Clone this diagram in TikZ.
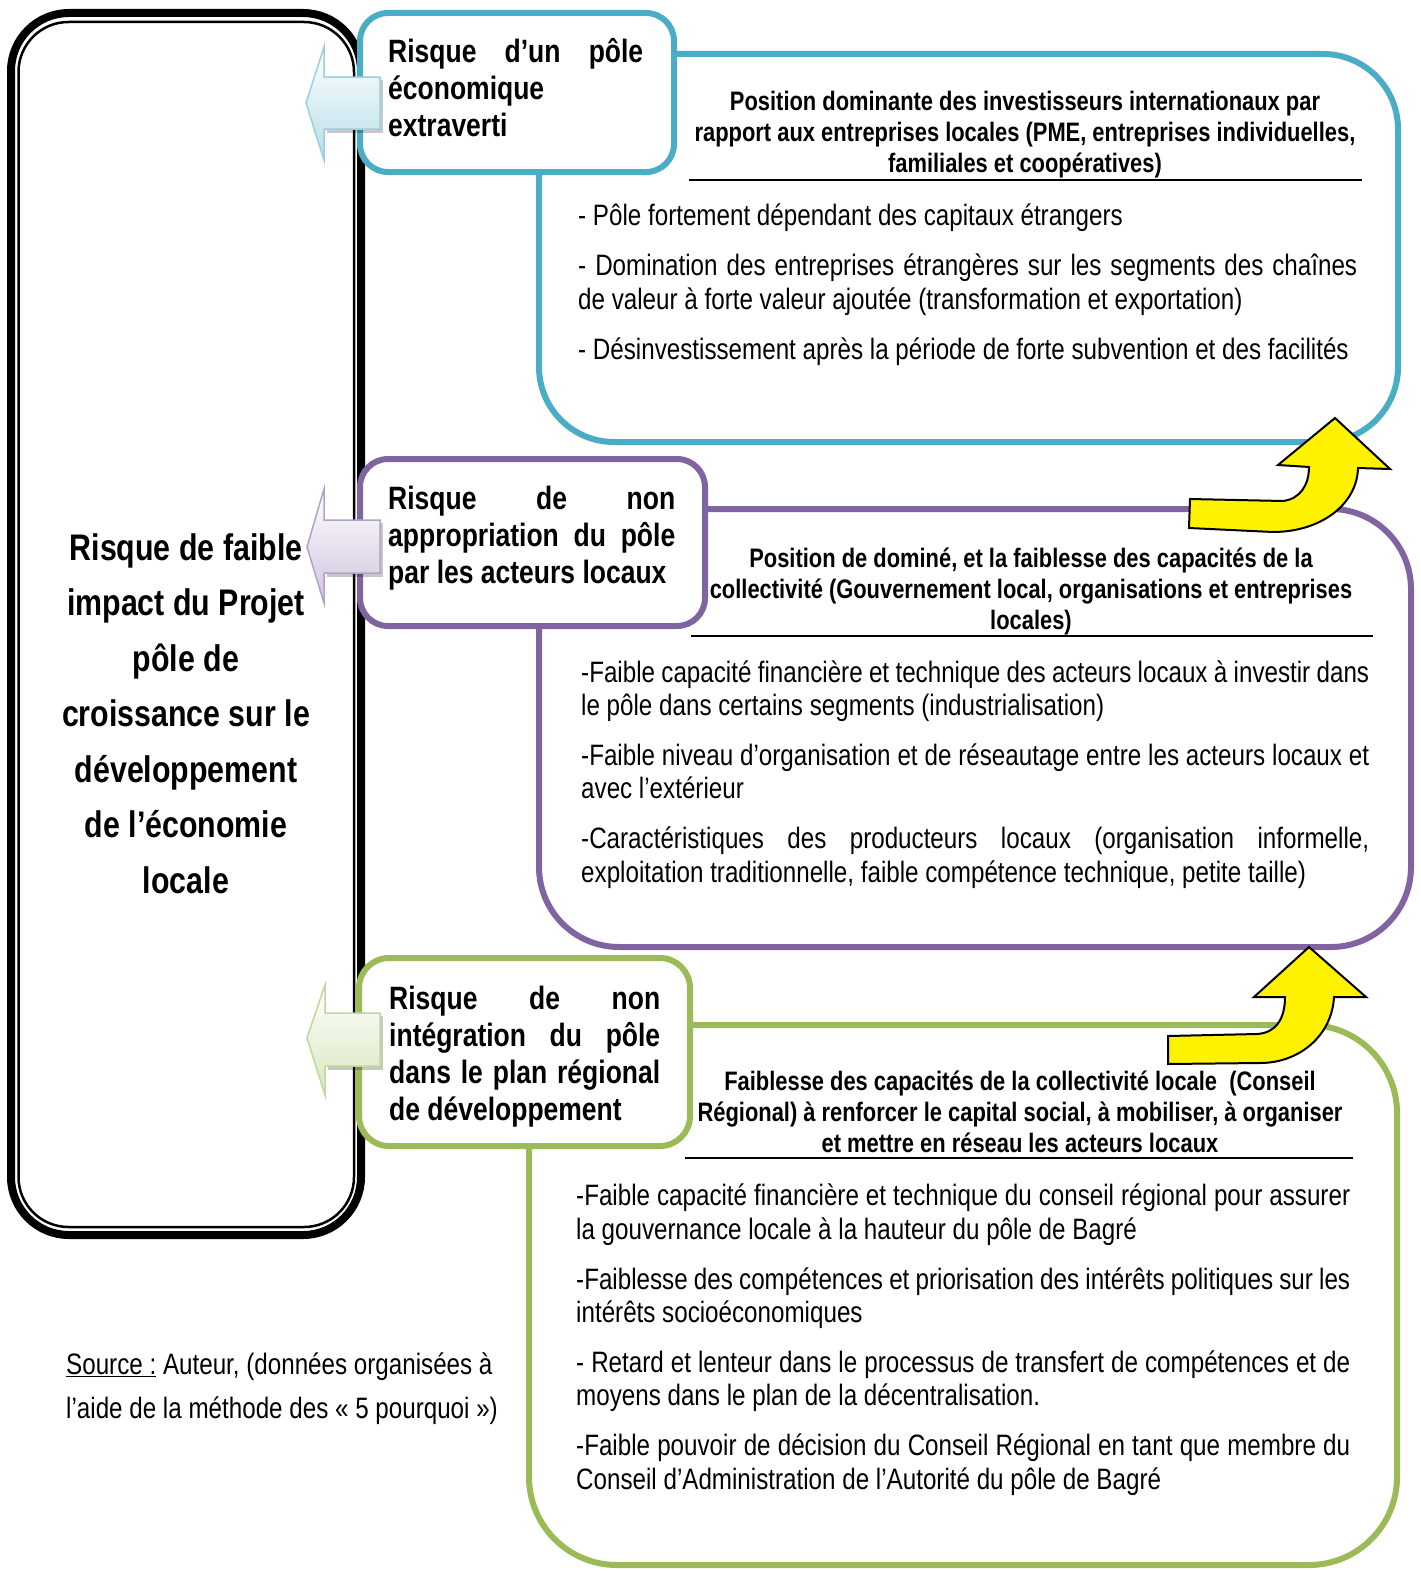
\documentclass[tikz,border=0pt]{standalone}
\usepackage{fontspec}
\setmainfont{Liberation Sans}[FakeStretch=0.82]
\definecolor{cblue}{HTML}{4BACC6}
\definecolor{cpurple}{HTML}{8064A2}
\definecolor{cgreen}{HTML}{9BBB59}
\definecolor{pbF}{HTML}{B7DEE8}
\definecolor{pbD}{HTML}{9ACFDE}
\definecolor{ppF}{HTML}{CFC4DE}
\definecolor{ppD}{HTML}{B3A2C8}
\definecolor{pgF}{HTML}{D8E6BF}
\definecolor{pgD}{HTML}{C0D89A}
\newcommand\jl[2]{\makebox[#1][s]{#2}}
\begin{document}
\begin{tikzpicture}[x=1pt,y=-1pt,
  txt/.style={inner sep=0pt, anchor=base west, align=left, font={\fontsize{29.5}{33.4}\selectfont}},
  hdr/.style={inner sep=0pt, anchor=base, align=center, font={\bfseries\fontsize{26.7}{31}\selectfont}},
  ttl/.style={inner sep=0pt, anchor=base west, align=left, font={\bfseries\fontsize{32.3}{36.8}\selectfont}},
  bigbox/.style={line width=6pt, fill=white},
  ttlbox/.style={line width=6pt, fill=white, rounded corners=28pt},
  yarrow/.style={fill=yellow, draw=black, line width=2pt, line join=miter},
  pale/.style={line width=1.5pt, line join=miter},
  rule/.style={line width=2pt, draw=black},
]
\useasboundingbox (0,0) rectangle (1421,1571);
\fill[white] (0,0) rectangle (1421,1571);

% left box
\draw[line width=8pt, rounded corners=58pt] (11,13) rectangle (361,1235);
\draw[line width=2.5pt, rounded corners=50pt] (18.5,22) rectangle (354,1227);

% big boxes
\draw[bigbox, draw=cblue, rounded corners=75pt] (539,54) rectangle (1398,442);
\draw[bigbox, draw=cpurple, rounded corners=80pt] (539,509) rectangle (1411,947);
\draw[bigbox, draw=cgreen, rounded corners=88pt] (529,1025) rectangle (1397,1565);

% title boxes
\draw[ttlbox, draw=cblue] (360,13) rectangle (674,172);
\draw[ttlbox, draw=cpurple] (360,459) rectangle (705,626);
\draw[ttlbox, draw=cgreen, rounded corners=30pt] (359,958) rectangle (690,1146);

% yellow arrows
\draw[yarrow] (1190,499) -- (1283,501) .. controls (1300,499) and (1309,485) .. (1309,467)
  -- (1278,465) -- (1335,418) -- (1390,469) -- (1358,468)
  .. controls (1357,505) and (1320,532) .. (1273,532) -- (1189,528) -- cycle;
\draw[yarrow] (1168,1036) -- (1257,1034) .. controls (1275,1033) and (1285,1020) .. (1285,997)
  -- (1254,997) -- (1309,947) -- (1366,997) -- (1334,997)
  .. controls (1332,1035) and (1300,1063) .. (1260,1063) -- (1168,1064) -- cycle;

% pale arrows
\fill[black, opacity=0.22] (327,80) rectangle (383,133);
\shadedraw[pale, top color=white, bottom color=pbF, draw=pbD] (306,103) -- (324,47) -- (324,77) -- (380,77) -- (380,129) -- (324,129) -- (324,160) -- cycle;
\fill[black, opacity=0.22] (327,523) rectangle (383,577);
\shadedraw[pale, top color=white, bottom color=ppF, draw=ppD] (307,547) -- (324,489) -- (324,520) -- (380,520) -- (380,573) -- (324,573) -- (324,603) -- cycle;
\fill[black, opacity=0.22] (328,1016) rectangle (383,1070);
\shadedraw[pale, top color=white, bottom color=pgF, draw=pgD] (307,1038) -- (325,985) -- (325,1013) -- (380,1013) -- (380,1066) -- (325,1066) -- (325,1095) -- cycle;

% left box text (anchor = baseline of last line)
\node[inner sep=0pt, anchor=base, align=center, font={\bfseries\fontsize{37}{55.5}\selectfont}] (main) at (186,893)
  {Risque de faible\\impact du Projet\\pôle de\\croissance sur le\\développement\\de l’économie\\locale};

% titles
\node[ttl] (t1) at (388,136) {\jl{255pt}{Risque d’un pôle}\\économique\\extraverti};
\node[ttl] (t2) at (388,583) {\jl{287pt}{Risque de non}\\\jl{287pt}{appropriation du pôle}\\par les acteurs locaux};
\node[ttl] (t3) at (389,1120) {\jl{271pt}{Risque de non}\\\jl{271pt}{intégration du pôle}\\\jl{271pt}{dans le plan régional}\\de développement};

% headers
\node[hdr] (h1) at (1025,172) {Position dominante des investisseurs internationaux par\\rapport aux entreprises locales (PME, entreprises individuelles,\\familiales et coopératives)};
\draw[rule] (689,180) -- (1362,180);
\node[hdr] (h2) at (1031,629) {Position de dominé, et la faiblesse des capacités de la\\collectivité (Gouvernement local, organisations et entreprises\\locales)};
\draw[rule] (691,636) -- (1373,636);
\node[hdr] (h3) at (1020,1152) {Faiblesse des capacités de la collectivité locale\ \ (Conseil\\Régional) à renforcer le capital social, à mobiliser, à organiser\\et mettre en réseau les acteurs locaux};
\draw[rule] (685,1158) -- (1353,1158);

% bodies
\node[txt] (b1) at (578,359.5) {- Pôle fortement dépendant des capitaux étrangers\\[17pt]
\jl{779pt}{- Domination des entreprises étrangères sur les segments des chaînes}\\
de valeur à forte valeur ajoutée (transformation et exportation)\\[17pt]
- Désinvestissement après la période de forte subvention et des facilités};

\node[txt] (b2) at (581,882) {\jl{788pt}{-Faible capacité financière et technique des acteurs locaux à investir dans}\\
le pôle dans certains segments (industrialisation)\\[16.5pt]
\jl{788pt}{-Faible niveau d’organisation et de réseautage entre les acteurs locaux et}\\
avec l’extérieur\\[16.5pt]
\jl{788pt}{-Caractéristiques des producteurs locaux (organisation informelle,}\\
exploitation traditionnelle, faible compétence technique, petite taille)};

\node[txt] (b3) at (576,1489) {\jl{774pt}{-Faible capacité financière et technique du conseil régional pour assurer}\\
la gouvernance locale à la hauteur du pôle de Bagré\\[16.5pt]
\jl{774pt}{-Faiblesse des compétences et priorisation des intérêts politiques sur les}\\
intérêts socioéconomiques\\[16.5pt]
\jl{774pt}{- Retard et lenteur dans le processus de transfert de compétences et de}\\
moyens dans le plan de la décentralisation.\\[16.5pt]
\jl{774pt}{-Faible pouvoir de décision du Conseil Régional en tant que membre du}\\
Conseil d’Administration de l’Autorité du pôle de Bagré};

% source
\node[inner sep=0pt, anchor=base west, align=left, font={\fontsize{29.5}{44}\selectfont}] (src) at (66,1418)
  {\underline{Source :} Auteur, (données organisées à\\l’aide de la méthode des «~5 pourquoi~»)};
\end{tikzpicture}
\end{document}
